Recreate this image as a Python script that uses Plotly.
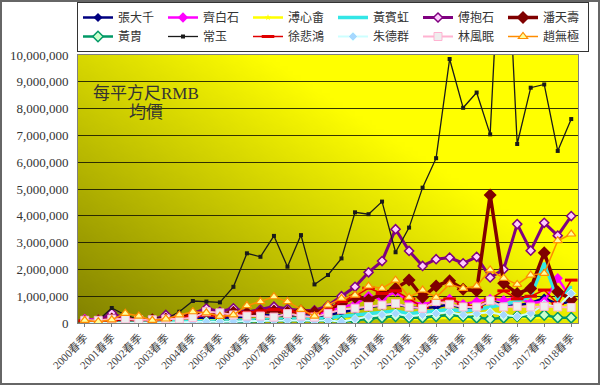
import zlib, struct, base64
import plotly.graph_objects as go

years = list(range(2000, 2019))
categories = []
for y in years:
    categories.append(f"{y}春季")
    if y < 2018:
        categories.append(f"{y}秋季")
tick_labels = [f"{y}春季" for y in years]

zhang_daqian = [0.1, 0.08, 0.12, 0.1, 0.1, 0.08, 0.1, 0.12, 0.15, 0.2, 0.18, 0.2, 0.25, 0.3, 0.3, 0.28, 0.3, 0.25, 0.3, 0.4, 0.5, 0.6, 0.65, 0.7, 0.6, 0.55, 0.6, 0.7, 0.55, 0.6, 0.8, 0.7, 0.65, 0.75, 0.93, 0.7, 0.8]
qi_baishi = [0.15, 0.12, 0.2, 0.15, 0.15, 0.12, 0.18, 0.2, 0.25, 0.3, 0.3, 0.35, 0.35, 0.4, 0.45, 0.4, 0.45, 0.35, 0.4, 0.6, 0.7, 1.0, 0.9, 1.17, 0.8, 0.7, 0.8, 0.9, 0.7, 0.8, 0.9, 0.85, 0.95, 0.75, 0.8, 1.67, 0.9]
pu_xinyu = [0.05, 0.05, 0.06, 0.05, 0.05, 0.06, 0.06, 0.08, 0.1, 0.1, 0.1, 0.1, 0.12, 0.12, 0.15, 0.12, 0.12, 0.1, 0.1, 0.12, 0.15, 0.15, 0.18, 0.2, 0.15, 0.15, 0.18, 0.2, 0.15, 0.15, 0.2, 0.18, 0.2, 0.2, 0.2, 0.18, 0.2]
huang_binhong = [0.02, 0.02, 0.03, 0.03, 0.03, 0.03, 0.04, 0.05, 0.05, 0.06, 0.08, 0.1, 0.12, 0.12, 0.15, 0.15, 0.15, 0.12, 0.2, 0.25, 0.3, 0.35, 0.4, 0.45, 0.35, 0.4, 0.45, 0.5, 0.45, 0.5, 0.6, 0.7, 0.8, 1.0, 2.23, 0.9, 1.35]
fu_baoshi = [0.1, 0.1, 0.37, 0.15, 0.15, 0.1, 0.3, 0.2, 0.35, 0.55, 0.42, 0.55, 0.4, 0.5, 0.61, 0.52, 0.47, 0.47, 0.65, 1.0, 1.35, 1.89, 2.31, 3.5, 2.69, 2.13, 2.38, 2.44, 2.23, 2.47, 1.7, 2.0, 3.69, 2.7, 3.74, 3.26, 3.99]
pan_tianshou = [0.05, 0.08, 0.15, 0.1, 0.1, 0.12, 0.15, 0.2, 0.3, 0.35, 0.3, 0.4, 0.35, 0.4, 0.45, 0.4, 0.45, 0.4, 0.51, 0.73, 0.96, 0.86, 1.08, 1.29, 1.6, 0.96, 1.38, 1.58, 1.26, 1.2, 4.78, 1.48, 1.1, 1.29, 2.62, 1.17, 0.88]
huang_zhou = [0.01, 0.01, 0.01, 0.01, 0.01, 0.01, 0.01, 0.02, 0.02, 0.03, 0.05, 0.05, 0.05, 0.08, 0.1, 0.1, 0.1, 0.08, 0.1, 0.05, 0.1, 0.15, 0.2, 0.25, 0.2, 0.2, 0.25, 0.3, 0.25, 0.2, 0.15, 0.2, 0.25, 0.25, 0.3, 0.2, 0.2]
chang_yu = [0.15, 0.1, 0.56, 0.3, 0.12, 0.2, 0.15, 0.42, 0.82, 0.8, 0.77, 1.35, 2.6, 2.47, 3.25, 2.1, 3.28, 1.44, 1.79, 2.41, 4.13, 4.06, 4.53, 2.64, 3.56, 5.05, 6.15, 9.85, 8.03, 8.6, 7.04, 17.0, 6.68, 8.78, 8.9, 6.42, 7.61]
xu_beihong = [0.08, 0.05, 0.1, 0.15, 0.12, 0.1, 0.12, 0.2, 0.25, 0.3, 0.25, 0.3, 0.4, 0.45, 0.5, 0.45, 0.4, 0.35, 0.5, 0.8, 1.0, 1.3, 1.1, 1.2, 0.9, 0.6, 0.8, 0.9, 0.7, 0.6, 0.9, 1.2, 0.9, 1.0, 1.23, 0.73, 1.6]
zhu_dequn = [0.0, 0.0, 0.02, 0.02, 0.02, 0.02, 0.02, 0.03, 0.05, 0.05, 0.05, 0.06, 0.08, 0.08, 0.1, 0.1, 0.1, 0.08, 0.1, 0.05, 0.15, 0.24, 0.3, 0.35, 0.25, 0.3, 0.35, 0.4, 0.3, 0.35, 0.4, 0.3, 0.25, 0.36, 0.7, 0.6, 1.1]
lin_fengmian = [0.1, 0.1, 0.15, 0.15, 0.12, 0.12, 0.15, 0.15, 0.2, 0.42, 0.38, 0.3, 0.26, 0.26, 0.22, 0.35, 0.26, 0.22, 0.36, 0.5, 0.55, 0.62, 0.67, 0.73, 0.6, 0.55, 0.8, 0.7, 0.6, 0.6, 0.83, 0.6, 0.62, 0.6, 0.62, 0.6, 0.58]
zhao_wuji = [0.1, 0.05, 0.12, 0.36, 0.26, 0.1, 0.15, 0.3, 0.42, 0.38, 0.25, 0.3, 0.65, 0.8, 0.98, 0.8, 0.51, 0.26, 0.67, 0.92, 1.04, 1.38, 1.29, 1.6, 0.96, 1.23, 0.96, 1.45, 1.29, 1.38, 1.98, 1.67, 1.44, 1.79, 1.85, 3.07, 3.32]

series = [
    ("張大千", zhang_daqian, dict(color="#000080", width=2.5), dict(symbol="diamond", size=7, color="#000080")),
    ("齊白石", qi_baishi, dict(color="#ff00ff", width=2.5), dict(symbol="diamond", size=8, color="#ff00ff")),
    ("溥心畬", pu_xinyu, dict(color="#ffff00", width=2.5), dict(symbol="star", size=5, color="#ffff00")),
    ("黃賓虹", huang_binhong, dict(color="#33e6e6", width=3.5), dict(symbol="circle", size=2, color="#33e6e6")),
    ("傅抱石", fu_baoshi, dict(color="#800080", width=3), dict(symbol="diamond", size=7, color="#ffccff", line=dict(color="#800080", width=1.5))),
    ("潘天壽", pan_tianshou, dict(color="#800000", width=3.5), dict(symbol="diamond", size=10, color="#800000")),
    ("黃胄", huang_zhou, dict(color="#009966", width=2.5), dict(symbol="diamond", size=8, color="#ccffcc", line=dict(color="#009966", width=1.5))),
    ("常玉", chang_yu, dict(color="#1a1a1a", width=1.3), dict(symbol="square", size=4, color="#1a1a1a")),
    ("徐悲鴻", xu_beihong, dict(color="#e00000", width=1.5), dict(symbol="line-ew", size=9, line=dict(color="#e00000", width=3))),
    ("朱德群", zhu_dequn, dict(color="#ccffff", width=2), dict(symbol="diamond", size=7, color="#a6d8ff", line=dict(color="#e0ffff", width=1))),
    ("林風眠", lin_fengmian, dict(color="#ffb3d1", width=2), dict(symbol="square", size=8, color="#eeeeee", line=dict(color="#ffb3d1", width=1))),
    ("趙無極", zhao_wuji, dict(color="#ff8c00", width=1.5), dict(symbol="triangle-up", size=8, color="#ffff99", line=dict(color="#ff8c00", width=1.2))),
]

# background gradient image (olive -> yellow, diagonal)
W, H = 120, 60
rows = []
for j in range(H):
    v = 1 - j / (H - 1)
    row = bytearray([0])
    for i in range(W):
        u = i / (W - 1)
        s = (u * 1.1 + v * 0.9) / 2
        t = min(1.0, 0.05 + s * 1.45)
        r = int(124 + (255 - 124) * t)
        g = int(124 + (255 - 124) * t)
        row += bytes([r, g, 0])
    rows.append(bytes(row))
raw = b"".join(rows)
def chunk(tag, data):
    c = struct.pack(">I", len(data)) + tag + data
    return c + struct.pack(">I", zlib.crc32(tag + data) & 0xffffffff)
png = b"\x89PNG\r\n\x1a\n" + chunk(b"IHDR", struct.pack(">IIBBBBB", W, H, 8, 2, 0, 0, 0)) + chunk(b"IDAT", zlib.compress(raw)) + chunk(b"IEND", b"")
bg_src = "data:image/png;base64," + base64.b64encode(png).decode()

fig = go.Figure()
for name, vals, line, marker in series:
    fig.add_trace(go.Scatter(
        x=categories, y=[v * 1_000_000 for v in vals], name=name,
        mode="lines+markers", line=line, marker=marker, cliponaxis=True,
    ))

ML, MR, MT, MB = 78, 22, 55, 62
PW, PH = 600 - ML - MR, 385 - MT - MB

fig.update_layout(
    width=600, height=385,
    margin=dict(l=ML, r=MR, t=MT, b=MB, autoexpand=False),
    paper_bgcolor="white",
    plot_bgcolor="rgba(0,0,0,0)",
    font=dict(family="Liberation Serif, Noto Sans CJK TC", size=12, color="#333"),
    showlegend=True,
    legend=dict(
        orientation="h", x=-0.002, xanchor="left", y=1 + 3 / PH, yanchor="bottom",
        bgcolor="white", bordercolor="#333", borderwidth=1,
        font=dict(family="Noto Sans CJK TC", size=12, color="#333"),
        entrywidth=40, entrywidthmode="pixels", itemwidth=30,
        tracegroupgap=0,
    ),
    images=[dict(
        source=bg_src, xref="x domain", yref="y domain", x=0, y=1,
        sizex=1, sizey=1, sizing="stretch", xanchor="left", yanchor="top",
        layer="below",
    )],
    xaxis=dict(
        type="category", categoryorder="array", categoryarray=categories,
        range=[-0.5, len(categories) - 0.5], autorange=False,
        tickmode="array", tickvals=tick_labels, ticktext=tick_labels,
        tickangle=-45, showgrid=False,
        showline=True, linecolor="#808080", linewidth=1, mirror=True,
        ticks="outside", ticklen=3, tickcolor="#808080",
        tickfont=dict(family="Liberation Serif, Noto Sans CJK TC", size=11, color="#444"),
    ),
    yaxis=dict(
        range=[0, 10_000_000], dtick=1_000_000, tickformat=",",
        showgrid=True, gridcolor="rgba(20,20,0,0.85)", gridwidth=1,
        showline=True, linecolor="#808080", linewidth=1, mirror=True,
        zeroline=False, ticks="", ticklabelstandoff=6,
        tickfont=dict(family="Liberation Serif", size=13, color="#333"),
    ),
    annotations=[
        dict(text="每平方尺RMB", xref="paper", yref="paper",
             x=68 / PW, y=1 - 38 / PH, xanchor="center", yanchor="middle",
             showarrow=False,
             font=dict(family="Liberation Serif, Noto Sans CJK TC", size=17, color="#333")),
        dict(text="均價", xref="paper", yref="paper",
             x=68 / PW, y=1 - 57 / PH, xanchor="center", yanchor="middle",
             showarrow=False,
             font=dict(family="Liberation Serif, Noto Sans CJK TC", size=17, color="#333")),
    ],
    shapes=[dict(
        type="rect", xref="paper", yref="paper",
        x0=-(ML - 1) / PW, x1=1 + (MR - 1) / PW,
        y0=-(MB - 1) / PH, y1=1 + (MT - 1) / PH,
        line=dict(color="#666", width=2), fillcolor="rgba(0,0,0,0)", layer="below",
    )],
)

fig.write_html(
    "out.html",
    config={"displayModeBar": False, "staticPlot": True},
    post_script="document.body.style.margin='0';document.body.style.overflow='hidden';",
)
